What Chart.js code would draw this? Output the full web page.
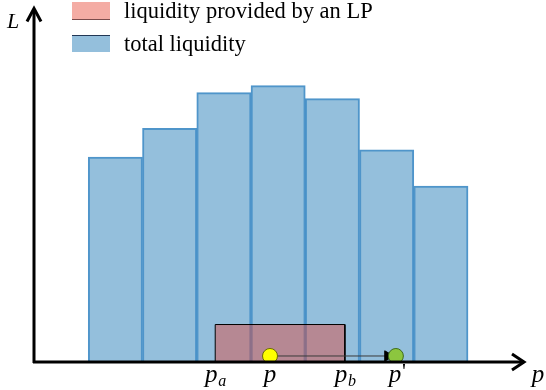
<!DOCTYPE html>
<html>
<head>
<meta charset="utf-8">
<script src="https://cdn.jsdelivr.net/npm/chart.js@4.4.1/dist/chart.umd.min.js"></script>
<style>
html,body{margin:0;padding:0;background:#fff;}
#wrap{width:546px;height:390px;position:relative;}
</style>
</head>
<body>
<div id="wrap"><canvas id="c"></canvas></div>
<script>
// ---- data ----
const binCenters = [0.5, 1.5, 2.5, 3.5, 4.5, 5.5, 6.5];
const totalLiquidity = [58.0, 66.1, 76.2, 78.2, 74.5, 60.0, 49.8];
const lpRange = [2.34, 4.73];
const lpLiquidity = 10.6;
const priceP = 3.35;
const priceP2 = 5.67;
const pointLevel = 1.7;
const tickLabels = [
  {main: 'p', sub: 'a', prime: '', x: 2.34},
  {main: 'p', sub: '', prime: '', x: 3.35},
  {main: 'p', sub: 'b', prime: '', x: 4.73},
  {main: 'p', sub: '', prime: "'", x: 5.67}
];
const legendLabels = ['liquidity provided by an LP', 'total liquidity'];
const axisLabels = {x: 'p', y: 'L'};

const SERIF = '"Liberation Serif", "DejaVu Serif", serif';

const bars = binCenters.map((x, i) => ({x: x, y: totalLiquidity[i]}));
const lpPoly = [
  {x: lpRange[0], y: 0}, {x: lpRange[0], y: lpLiquidity},
  {x: lpRange[1], y: lpLiquidity}, {x: lpRange[1], y: 0}
];

const overlay = {
  id: 'overlay',
  afterDatasetsDraw(chart) {
    const ctx = chart.ctx;
    const a = chart.chartArea;
    const xs = chart.scales.x;
    ctx.save();
    // axes
    ctx.strokeStyle = '#000';
    ctx.lineWidth = 3;
    ctx.lineCap = 'butt';
    ctx.beginPath();
    ctx.moveTo(a.left - 1, a.bottom);
    ctx.lineTo(a.right - 2, a.bottom);
    ctx.moveTo(a.left, a.bottom + 1);
    ctx.lineTo(a.left, a.top + 1);
    ctx.stroke();
    ctx.lineWidth = 3;
    ctx.lineJoin = 'miter';
    ctx.beginPath();
    ctx.moveTo(a.right - 13, a.bottom - 8);
    ctx.lineTo(a.right - 1, a.bottom);
    ctx.lineTo(a.right - 13, a.bottom + 8);
    ctx.moveTo(a.left - 7, a.top + 13);
    ctx.lineTo(a.left, a.top);
    ctx.lineTo(a.left + 7, a.top + 13);
    ctx.stroke();

    // tick labels
    ctx.fillStyle = '#000';
    ctx.textBaseline = 'alphabetic';
    tickLabels.forEach(t => {
      const px = xs.getPixelForValue(t.x);
      ctx.font = 'italic 25px ' + SERIF;
      ctx.textAlign = 'center';
      const mx = px - (t.sub ? 4 : 0) - (t.prime ? 1 : 0);
      ctx.fillText(t.main, mx, a.bottom + 20);
      if (t.sub) {
        ctx.font = 'italic 16px ' + SERIF;
        ctx.textAlign = 'left';
        ctx.fillText(t.sub, px + 3, a.bottom + 24);
      }
      if (t.prime) {
        ctx.font = '22px ' + SERIF;
        ctx.textAlign = 'left';
        ctx.fillText(t.prime, mx + 7, a.bottom + 16);
      }
    });
    // axis labels
    ctx.font = 'italic 25px ' + SERIF;
    ctx.textAlign = 'center';
    ctx.fillText(axisLabels.x, a.right + 13, a.bottom + 20);
    ctx.font = 'italic 22px ' + SERIF;
    ctx.textAlign = 'left';
    ctx.fillText(axisLabels.y, 7, 28);

    // legend
    const boxes = [
      {fill: '#f4aca4', edge: 'rgba(90,30,30,0.8)', y: 2, edgeY: 19},
      {fill: '#94bfdc', edge: 'rgba(20,40,70,0.9)', y: 35, edgeY: 35}
    ];
    boxes.forEach((b, i) => {
      ctx.fillStyle = b.fill;
      ctx.fillRect(72, b.y, 38, 17);
      ctx.strokeStyle = b.edge;
      ctx.lineWidth = 1;
      ctx.beginPath();
      ctx.moveTo(72, b.edgeY + 0.5);
      ctx.lineTo(110, b.edgeY + 0.5);
      ctx.stroke();
      ctx.fillStyle = '#000';
      ctx.font = '22.5px ' + SERIF;
      ctx.textAlign = 'left';
      ctx.fillText(legendLabels[i], 124, b.y + 16);
    });
    ctx.restore();
  }
};

new Chart(document.getElementById('c'), {
  data: {
    datasets: [
      {
        type: 'bar',
        data: bars,
        backgroundColor: '#94bfdc',
        borderColor: 'rgba(60,138,196,0.9)',
        borderWidth: 2,
        borderSkipped: 'start',
        barPercentage: 1,
        categoryPercentage: 1,
        order: 5
      },
      {
        type: 'line',
        data: lpPoly,
        showLine: true,
        fill: 'origin',
        backgroundColor: 'rgba(228,66,50,0.43)',
        borderColor: '#000',
        borderWidth: 1,
        pointRadius: 0,
        tension: 0,
        order: 4
      },
      {
        type: 'line',
        data: [{x: priceP, y: pointLevel}, {x: priceP2 - 0.15, y: pointLevel}],
        showLine: true,
        fill: false,
        borderColor: '#3a3a3a',
        borderWidth: 1,
        pointRadius: [0, 6],
        pointStyle: 'triangle',
        rotation: 90,
        pointBackgroundColor: '#000',
        pointBorderColor: '#000',
        order: 3
      },
      {
        type: 'scatter',
        data: [{x: priceP, y: pointLevel}],
        pointRadius: 7.5,
        pointBackgroundColor: '#ffff00',
        pointBorderColor: '#6b6b00',
        pointBorderWidth: 1,
        order: 2
      },
      {
        type: 'scatter',
        data: [{x: priceP2, y: pointLevel}],
        pointRadius: 7.5,
        pointBackgroundColor: '#8cc63f',
        pointBorderColor: '#3f6b1a',
        pointBorderWidth: 1,
        order: 1
      }
    ]
  },
  options: {
    responsive: true,
    maintainAspectRatio: false,
    animation: false,
    layout: {padding: {left: 34, right: 21, top: 5, bottom: 28}},
    scales: {
      x: {type: 'linear', min: -1, max: 8.05, offset: false, display: false},
      y: {type: 'linear', min: 0, max: 100, display: false}
    },
    plugins: {
      legend: {display: false},
      tooltip: {enabled: false}
    }
  },
  plugins: [overlay]
});
</script>
</body>
</html>
